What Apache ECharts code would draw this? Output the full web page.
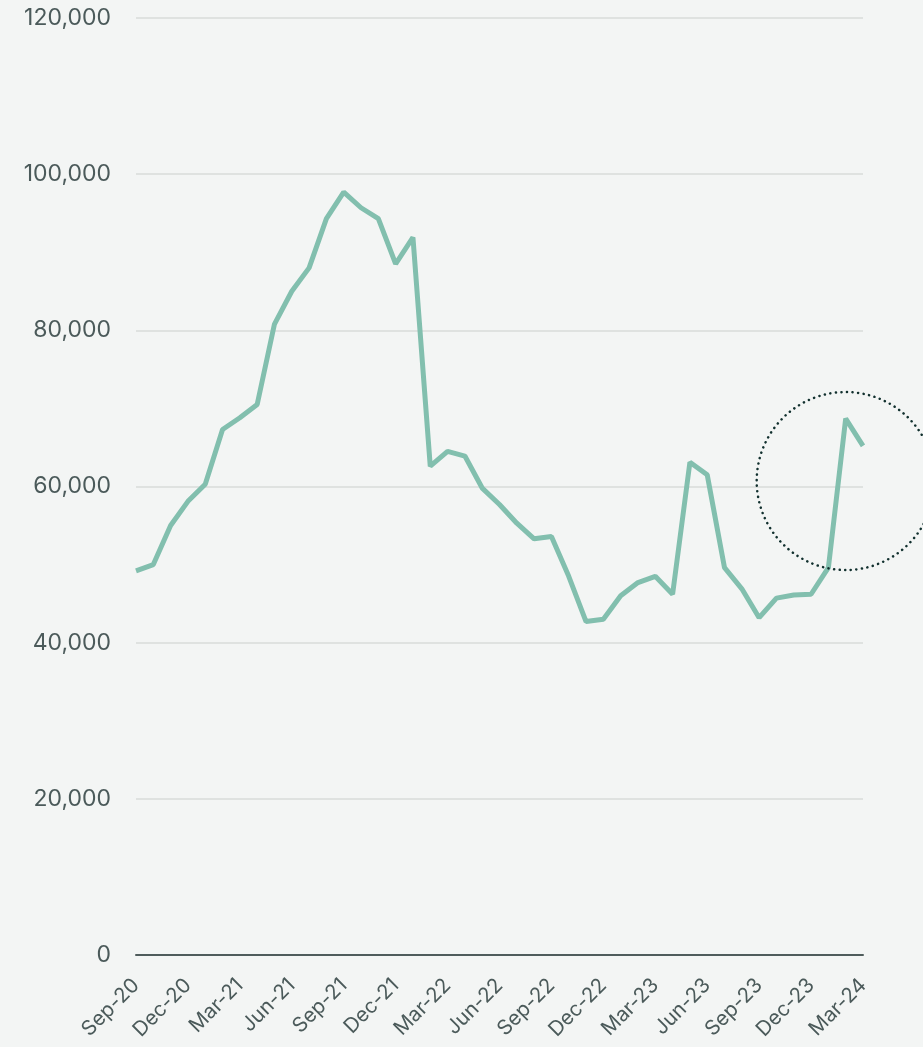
<!DOCTYPE html>
<html>
<head>
<meta charset="utf-8">
<script src="https://cdn.jsdelivr.net/npm/echarts@6/dist/echarts.min.js"></script>
<style>
html,body{margin:0;padding:0;background:#f3f5f4;}
#chart{width:923px;height:1047px;}
</style>
</head>
<body>
<div id="chart"></div>
<script>
const months = ['Sep-20','Oct-20','Nov-20','Dec-20','Jan-21','Feb-21','Mar-21','Apr-21','May-21','Jun-21','Jul-21','Aug-21','Sep-21','Oct-21','Nov-21','Dec-21','Jan-22','Feb-22','Mar-22','Apr-22','May-22','Jun-22','Jul-22','Aug-22','Sep-22','Oct-22','Nov-22','Dec-22','Jan-23','Feb-23','Mar-23','Apr-23','May-23','Jun-23','Jul-23','Aug-23','Sep-23','Oct-23','Nov-23','Dec-23','Jan-24','Feb-24','Mar-24'];
const values = [49200,50000,55000,58100,60300,67300,68800,70500,80800,85000,88000,94300,97700,95700,94300,88500,91900,62600,64500,63900,59800,57700,55300,53300,53600,48500,42700,43000,46000,47700,48500,46200,63100,61500,49600,46900,43200,45700,46100,46200,49600,68700,65200];
const yTicks = [0,20000,40000,60000,80000,100000,120000];
const highlight = {month:'Feb-24', value:60700, radius:89};

const chart = echarts.init(document.getElementById('chart'));
const txt = '#4b5a5a';
chart.setOption({
  backgroundColor:'#f3f5f4',
  animation:false,
  grid:{left:136,right:60,top:18,bottom:92,containLabel:false},
  xAxis:{
    type:'category',
    data:months,
    boundaryGap:false,
    axisLine:{lineStyle:{color:'#4f5c5c',width:2}},
    axisTick:{show:false},
    axisLabel:{
      interval:2, rotate:45, margin:27,
      color:txt, fontSize:20.5, fontFamily:'Inter'
    },
    splitLine:{show:false}
  },
  yAxis:{
    type:'value',
    min:yTicks[0], max:yTicks[yTicks.length-1], interval:20000,
    axisLine:{show:false}, axisTick:{show:false},
    axisLabel:{
      margin:25, color:txt, fontSize:23, fontFamily:'Inter',
      formatter:v=>v.toLocaleString('en-US')
    },
    splitLine:{lineStyle:{color:'#d8dbda',width:1.5}}
  },
  series:[{
    type:'line',
    data:values,
    symbol:'none',
    lineStyle:{color:'#82bfae',width:5},
    itemStyle:{color:'#82bfae'},
    z:3
  }]
});
const c = chart.convertToPixel({xAxisIndex:0,yAxisIndex:0},[highlight.month, highlight.value]);
chart.setOption({
  graphic:[{
    type:'circle',
    shape:{cx:c[0],cy:c[1],r:highlight.radius},
    style:{fill:'none',stroke:'#11302e',lineWidth:2.5,lineDash:[0.1,5.5],lineCap:'round'},
    z:10
  }]
});
</script>
</body>
</html>
